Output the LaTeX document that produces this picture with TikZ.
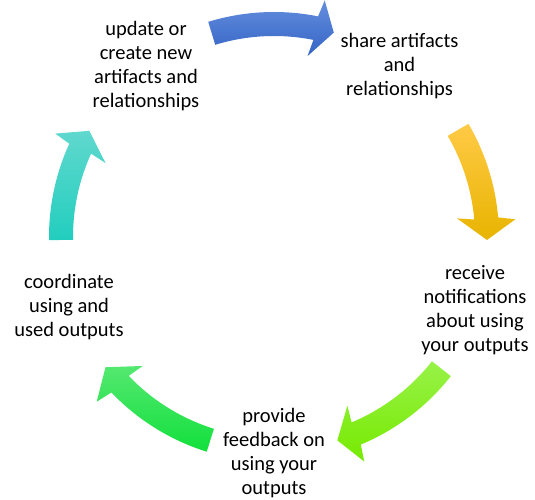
\documentclass[tikz,border=0pt]{standalone}
\usepackage{fontspec}
\setmainfont{Carlito}
\definecolor{blueT}{RGB}{100,142,222}
\definecolor{blueB}{RGB}{52,100,196}
\definecolor{yelT}{RGB}{255,202,70}
\definecolor{yelB}{RGB}{232,180,0}
\definecolor{grnRT}{RGB}{152,242,72}
\definecolor{grnRB}{RGB}{118,234,0}
\definecolor{grnLT}{RGB}{84,232,112}
\definecolor{grnLB}{RGB}{18,224,60}
\definecolor{tealT}{RGB}{96,216,206}
\definecolor{tealB}{RGB}{34,206,190}
\tikzset{
  lbl/.style={align=center, inner sep=0pt, font=\fontsize{20.5}{24}\selectfont, text=black}
}
% #1 tail angle, #2 head base angle, #3 tip angle, #4 top colour, #5 bottom colour
\newcommand\mycycarrow[5]{%
  \shade[top color=#4, bottom color=#5]
    (#1:225pt) arc[start angle=#1, end angle=#2, radius=225pt]
    -- ({#2-0.8}:242pt) -- (#3:213pt) -- ({#2+0.8}:184pt)
    -- (#2:201pt) arc[start angle=#2, end angle=#1, radius=201pt] -- cycle;
}
\begin{document}
\begin{tikzpicture}[x=1pt,y=1pt]
  \useasboundingbox (0,0) rectangle (535,499);
  \coordinate (C) at (274,262);
  \begin{scope}[shift={(C)}]
    \mycycarrow{107}{78.7}{73.7}{blueT}{blueB}
    \mycycarrow{30.2}{5.0}{-0.8}{yelT}{yelB}
    \mycycarrow{-38.2}{-67.3}{-72.7}{grnRT}{grnRB}
    \mycycarrow{-107.4}{-136.3}{-142.3}{grnLT}{grnLB}
    \mycycarrow{180.8}{155.5}{150.1}{tealT}{tealB}
  \end{scope}
  \node[lbl] (upd) at (146,431.8) {\strut update or\\\strut create new\\\strut artifacts and\\\strut relationships};
  \node[lbl] (shr) at (399.5,431.8) {\strut share artifacts\\\strut and\\\strut relationships};
  \node[lbl] (rcv) at (475,188.8) {\strut receive\\\strut notifications\\\strut about using\\\strut your outputs};
  \node[lbl] (prv) at (274,45.3) {\strut provide\\\strut feedback on\\\strut using your\\\strut outputs};
  \node[lbl] (crd) at (69,191.8) {\strut coordinate\\\strut using and\\\strut used outputs};
\end{tikzpicture}
\end{document}
